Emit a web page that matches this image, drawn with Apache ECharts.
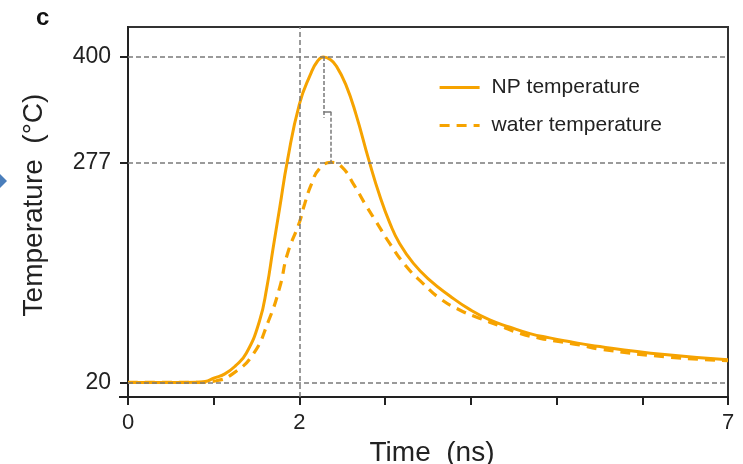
<!DOCTYPE html>
<html>
<head>
<meta charset="utf-8">
<script src="https://cdn.jsdelivr.net/npm/echarts@6/dist/echarts.min.js"></script>
<style>
html,body{margin:0;padding:0;background:#fff;}
#chart{width:743px;height:464px;}
</style>
</head>
<body>
<div id="chart"></div>
<script>
// ---- data ----
const npTime  = [0, 0.5, 0.8, 0.9, 1.0, 1.13, 1.25, 1.38, 1.535, 1.62, 1.69, 1.77, 1.86, 2.0, 2.13, 2.21, 2.28, 2.36, 2.43, 2.54, 2.66, 2.81, 2.94, 3.055, 3.17, 3.33, 3.52, 3.755, 3.99, 4.22, 4.456, 4.69, 4.92, 5.16, 5.39, 6.26, 7.0];
const npTemp  = [20, 20, 20.3, 21, 25, 30, 39, 54, 92, 131, 175, 224, 279, 345, 380, 395, 400, 397, 389.5, 368, 333, 279.5, 237, 206, 182, 159, 139.5, 121, 105, 93, 84.5, 77, 72, 67.5, 63.5, 52.5, 46.5];
const waterTime = [0, 0.8, 1.03, 1.22, 1.46, 1.64, 1.77, 1.86, 2.0, 2.06, 2.14, 2.23, 2.37, 2.5, 2.64, 2.78, 2.9, 3.055, 3.25, 3.44, 3.64, 3.87, 4.1, 4.34, 4.57, 4.81, 5.04, 5.27, 5.5, 6.26, 7.0];
const waterTemp = [20, 20, 22, 30, 53, 92, 131, 170, 207, 228, 251.6, 269, 277, 271, 250, 226, 207, 182, 155, 135.7, 118, 104.6, 95, 86, 77.4, 71.5, 67.6, 63.7, 59, 50, 45.5];
const yTickValues = [20, 277, 400];
const xLabelValues = [0, 2, 7];
const refTime = 2;
const npPeak = {t: 2.28, v: 400};
const waterPeak = {t: 2.37, v: 277};
const bracketMid = 336;
const bracketEnd = 329;
const seriesNames = ['NP temperature', 'water temperature'];

const orange = '#f6a300';
const font = '"Liberation Sans", Arial, Helvetica, sans-serif';

const zip = (a, b) => a.map((x, i) => [x, b[i]]);
const gridDash = {color: '#7a7a7a', width: 1.5, type: [5, 3]};

const chart = echarts.init(document.getElementById('chart'), null, {renderer: 'canvas'});
const option = {
  backgroundColor: '#fff',
  animation: false,
  title: {
    text: 'c', left: 31, top: 1,
    textStyle: {fontFamily: font, fontSize: 24, fontWeight: 'bold', color: '#111'}
  },
  grid: {left: 128, right: 15, top: 27, bottom: 67, outerBoundsMode: 'none', containLabel: false,
         show: true, borderColor: '#333', borderWidth: 2, backgroundColor: 'transparent'},
  legend: {
    data: seriesNames,
    orient: 'vertical', left: 438, top: 77, padding: 0,
    itemWidth: 40, itemHeight: 20, itemGap: 17,
    itemStyle: {opacity: 0},
    lineStyle: {width: 3.2},
    textStyle: {fontFamily: font, fontSize: 21, color: '#222', padding: [0, 0, 0, 7]}
  },
  xAxis: {
    type: 'value', min: 0, max: 7, interval: 1,
    name: 'Time  (ns)', nameLocation: 'middle', nameGap: 34,
    nameTextStyle: {fontFamily: font, fontSize: 28, color: '#222', padding: [0, 0, 0, 8]},
    axisLine: {show: true, onZero: false, lineStyle: {color: '#222', width: 2}},
    axisTick: {show: true, length: 8, lineStyle: {color: '#222', width: 2}},
    axisLabel: {
      fontFamily: font, fontSize: 22, color: '#222', margin: 15,
      formatter: v => (xLabelValues.includes(v) ? String(v) : '')
    },
    splitLine: {show: false}
  },
  yAxis: {
    type: 'value', min: 3, max: 435,
    name: 'Temperature  (°C)', nameLocation: 'middle', nameGap: 80, nameRotate: 90,
    nameTextStyle: {fontFamily: font, fontSize: 28, color: '#222', padding: [0, 0, 0, 14]},
    axisLine: {show: true, onZero: false, lineStyle: {color: '#222', width: 2}},
    axisTick: {show: true, length: 8, customValues: yTickValues, lineStyle: {color: '#222', width: 2}},
    axisLabel: {show: true, customValues: yTickValues, fontFamily: font, fontSize: 23, color: '#222', margin: 17},
    splitLine: {show: false}
  },
  series: [
    {
      name: 'guides', type: 'line', data: [], z: 1, silent: true,
      markLine: {
        silent: true, symbol: 'none', label: {show: false}, animation: false,
        lineStyle: gridDash,
        data: [
          {yAxis: yTickValues[2]}, {yAxis: yTickValues[1]}, {yAxis: yTickValues[0]}, {xAxis: refTime},
          [{coord: [npPeak.t, npPeak.v], lineStyle: {width: 1.5, type: [4, 2], color: '#7a7a7a'}}, {coord: [npPeak.t, bracketEnd]}],
          [{coord: [npPeak.t, bracketMid], lineStyle: {width: 1.5, type: 'solid', color: '#7a7a7a'}}, {coord: [waterPeak.t, bracketMid]}],
          [{coord: [waterPeak.t, bracketMid], lineStyle: {width: 1.5, type: [4, 2], color: '#7a7a7a'}}, {coord: [waterPeak.t, waterPeak.v]}]
        ]
      }
    },
    {
      name: seriesNames[0], type: 'line', data: zip(npTime, npTemp), z: 3,
      showSymbol: false, symbol: 'none', smooth: 0.5,
      lineStyle: {color: orange, width: 3}, itemStyle: {color: orange}
    },
    {
      name: seriesNames[1], type: 'line', data: zip(waterTime, waterTemp), z: 3,
      showSymbol: false, symbol: 'none', smooth: 0.5,
      lineStyle: {color: orange, width: 3.2, type: [10, 7]}, itemStyle: {color: orange}
    }
  ]
};
chart.setOption(option);

// small decorations: x-axis line overhang on the left, and the cut-off blue marker at the left edge
const p0 = chart.convertToPixel({gridIndex: 0}, [0, 3]);
chart.setOption({
  graphic: [
    {type: 'line', shape: {x1: p0[0] - 9, y1: p0[1], x2: p0[0], y2: p0[1]}, style: {stroke: '#222', lineWidth: 2}, z: 10},
    {type: 'polygon', shape: {points: [[0, 174], [7, 181], [0, 188]]}, style: {fill: '#4a7ebb'}, z: 10}
  ]
});
</script>
</body>
</html>
